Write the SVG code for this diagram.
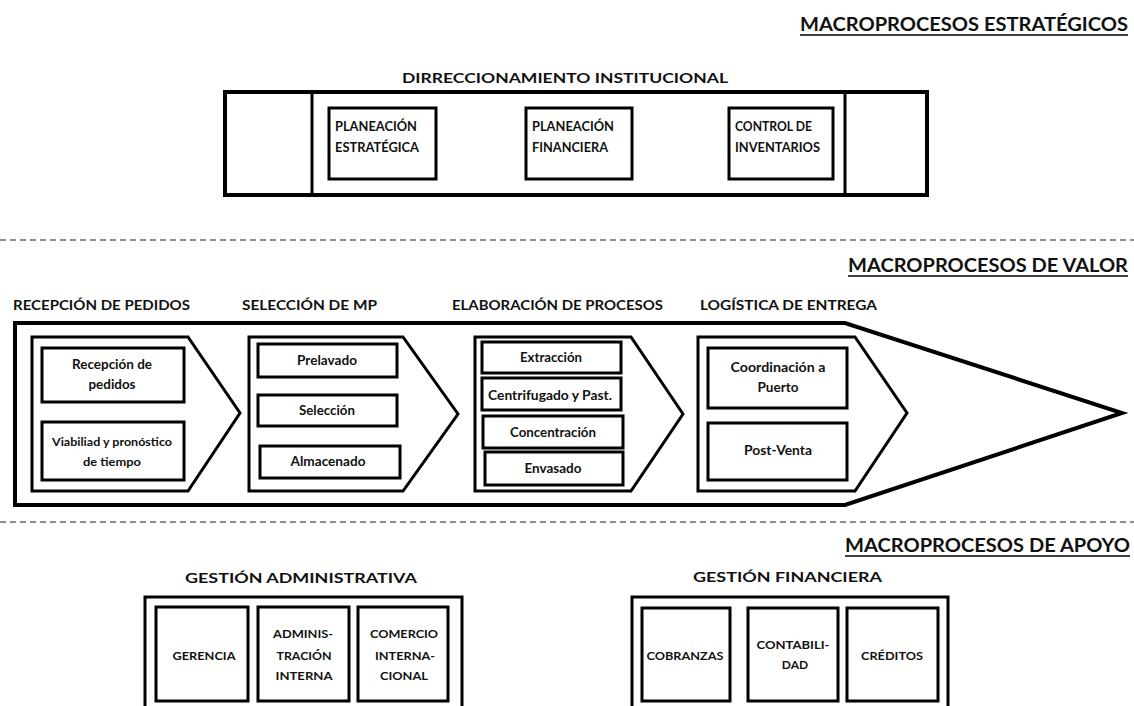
<svg xmlns="http://www.w3.org/2000/svg" width="1134" height="706" viewBox="0 0 1134 706">
  <style>
    text { font-family: Lato, "Liberation Sans", sans-serif; font-weight: bold; fill: #111; }
    .macro { font-size: 18px; }
    .head { font-size: 14px; }
    .small { font-size: 11.5px; }
    .cap { font-size: 12.5px; }
    .step { font-size: 12.5px; }
    .sup { font-size: 12px; }
    .mid { text-anchor: middle; }
    .outer { fill: #fff; stroke: #000; stroke-width: 4; }
    .box { fill: #fff; stroke: #000; stroke-width: 3; }
    .rule { stroke: #000; stroke-width: 1.5; }
    .sep { stroke: #8c8c8c; stroke-width: 2; stroke-dasharray: 6 4; }
  </style>

  <rect width="1134" height="706" fill="#fff"/>

  <!-- section separators -->
  <g id="separators">
    <line class="sep" x1="0" y1="240" x2="1134" y2="240"/>
    <line class="sep" x1="0" y1="522" x2="1134" y2="522"/>
  </g>

  <!-- section headings -->
  <g id="macro-headings">
    <text class="macro" x="800" y="31" textLength="328" lengthAdjust="spacingAndGlyphs">MACROPROCESOS ESTRATÉGICOS</text>
    <line class="rule" x1="800" y1="35" x2="1128" y2="35"/>
    <text class="macro" x="848" y="272" textLength="280" lengthAdjust="spacingAndGlyphs">MACROPROCESOS DE VALOR</text>
    <line class="rule" x1="848" y1="276" x2="1128" y2="276"/>
    <text class="macro" x="845" y="552" textLength="285" lengthAdjust="spacingAndGlyphs">MACROPROCESOS DE APOYO</text>
    <line class="rule" x1="845" y1="556" x2="1130" y2="556"/>
  </g>

  <!-- strategic block -->
  <g id="direccionamiento">
    <text class="head" x="402" y="83" textLength="326" lengthAdjust="spacingAndGlyphs">DIRRECCIONAMIENTO INSTITUCIONAL</text>
    <rect class="outer" x="225" y="92" width="702" height="103"/>
    <line stroke="#000" stroke-width="3" x1="312" y1="92" x2="312" y2="195"/>
    <line stroke="#000" stroke-width="3" x1="845" y1="92" x2="845" y2="195"/>
  </g>
  <g id="planeacion-estrategica">
    <rect class="box" x="329" y="108" width="107" height="71"/>
    <text class="cap" x="335" y="131" textLength="82" lengthAdjust="spacingAndGlyphs">PLANEACIÓN</text>
    <text class="cap" x="335" y="152" textLength="84" lengthAdjust="spacingAndGlyphs">ESTRATÉGICA</text>
  </g>
  <g id="planeacion-financiera">
    <rect class="box" x="526" y="108" width="106" height="71"/>
    <text class="cap" x="532" y="131" textLength="82" lengthAdjust="spacingAndGlyphs">PLANEACIÓN</text>
    <text class="cap" x="532" y="152" textLength="76" lengthAdjust="spacingAndGlyphs">FINANCIERA</text>
  </g>
  <g id="control-inventarios">
    <rect class="box" x="729" y="108" width="104" height="71"/>
    <text class="cap" x="735" y="131" textLength="77" lengthAdjust="spacingAndGlyphs">CONTROL DE</text>
    <text class="cap" x="735" y="152" textLength="85" lengthAdjust="spacingAndGlyphs">INVENTARIOS</text>
  </g>

  <!-- value chain -->
  <g id="cadena-valor">
    <polygon class="outer" points="15,323 845,323 1122,413 845,505 15,505"/>
    <text class="head" x="13" y="310" textLength="177" lengthAdjust="spacingAndGlyphs">RECEPCIÓN DE PEDIDOS</text>
    <text class="head" x="242" y="310" textLength="135" lengthAdjust="spacingAndGlyphs">SELECCIÓN DE MP</text>
    <text class="head" x="452" y="310" textLength="211" lengthAdjust="spacingAndGlyphs">ELABORACIÓN DE PROCESOS</text>
    <text class="head" x="700" y="310" textLength="177" lengthAdjust="spacingAndGlyphs">LOGÍSTICA DE ENTREGA</text>
  </g>

  <g id="recepcion-pedidos">
    <polygon class="box" points="32,337 188,337 240,413 188,491 32,491"/>
    <rect class="box" x="42" y="348" width="142" height="54"/>
    <text class="step mid" x="112" y="369" textLength="80" lengthAdjust="spacingAndGlyphs">Recepción de</text>
    <text class="step mid" x="112" y="389" textLength="47" lengthAdjust="spacingAndGlyphs">pedidos</text>
    <rect class="box" x="42" y="422" width="142" height="58"/>
    <text class="small mid" x="112" y="446" textLength="120" lengthAdjust="spacingAndGlyphs">Viabiliad y pronóstico</text>
    <text class="small mid" x="112" y="466" textLength="58" lengthAdjust="spacingAndGlyphs">de tiempo</text>
  </g>

  <g id="seleccion-mp">
    <polygon class="box" points="249,337 403,337 458,414 403,491 249,491"/>
    <rect class="box" x="258" y="344" width="139" height="33"/>
    <text class="step mid" x="327" y="365" textLength="60" lengthAdjust="spacingAndGlyphs">Prelavado</text>
    <rect class="box" x="258" y="395" width="139" height="31"/>
    <text class="step mid" x="327" y="415" textLength="56" lengthAdjust="spacingAndGlyphs">Selección</text>
    <rect class="box" x="260" y="446" width="140" height="32" stroke-width="3.5"/>
    <text class="step mid" x="328" y="466" textLength="75" lengthAdjust="spacingAndGlyphs">Almacenado</text>
  </g>

  <g id="elaboracion-procesos">
    <polygon class="box" points="475,337 631,337 683,414 631,491 475,491"/>
    <rect class="box" x="482" y="342" width="139" height="31"/>
    <text class="step mid" x="551" y="362" textLength="62" lengthAdjust="spacingAndGlyphs">Extracción</text>
    <rect class="box" x="482" y="378" width="139" height="32"/>
    <text class="step mid" x="550" y="400" textLength="124" lengthAdjust="spacingAndGlyphs">Centrifugado y Past.</text>
    <rect class="box" x="483" y="416" width="140" height="32"/>
    <text class="step mid" x="553" y="437" textLength="86" lengthAdjust="spacingAndGlyphs">Concentración</text>
    <rect class="box" x="485" y="452" width="138" height="33"/>
    <text class="step mid" x="553" y="473" textLength="57" lengthAdjust="spacingAndGlyphs">Envasado</text>
  </g>

  <g id="logistica-entrega">
    <polygon class="box" points="698,337 855,337 907,413 855,491 698,491"/>
    <rect class="box" x="708" y="348" width="139" height="60"/>
    <text class="step mid" x="778" y="372" textLength="95" lengthAdjust="spacingAndGlyphs">Coordinación a</text>
    <text class="step mid" x="778" y="392" textLength="41" lengthAdjust="spacingAndGlyphs">Puerto</text>
    <rect class="box" x="708" y="423" width="139" height="57"/>
    <text class="step mid" x="778" y="455" textLength="68" lengthAdjust="spacingAndGlyphs">Post-Venta</text>
  </g>

  <!-- support processes -->
  <g id="gestion-administrativa">
    <text class="head" x="185" y="583" textLength="232" lengthAdjust="spacingAndGlyphs">GESTIÓN ADMINISTRATIVA</text>
    <rect class="box" x="145" y="597" width="317" height="130"/>
  </g>
  <g id="gerencia">
    <rect class="box" x="156" y="607" width="92" height="94" stroke-width="3.5"/>
    <text class="sup mid" x="204" y="660" textLength="63" lengthAdjust="spacingAndGlyphs">GERENCIA</text>
  </g>
  <g id="administracion-interna">
    <rect class="box" x="258" y="607" width="91" height="94" stroke-width="3.5"/>
    <text class="sup mid" x="303" y="638" textLength="60" lengthAdjust="spacingAndGlyphs">ADMINIS-</text>
    <text class="sup mid" x="304" y="660" textLength="55" lengthAdjust="spacingAndGlyphs">TRACIÓN</text>
    <text class="sup mid" x="304" y="680" textLength="57" lengthAdjust="spacingAndGlyphs">INTERNA</text>
  </g>
  <g id="comercio-internacional">
    <rect class="box" x="358" y="607" width="90" height="94" stroke-width="4"/>
    <text class="sup mid" x="404" y="638" textLength="68" lengthAdjust="spacingAndGlyphs">COMERCIO</text>
    <text class="sup mid" x="405" y="660" textLength="60" lengthAdjust="spacingAndGlyphs">INTERNA-</text>
    <text class="sup mid" x="404" y="680" textLength="48" lengthAdjust="spacingAndGlyphs">CIONAL</text>
  </g>

  <g id="gestion-financiera">
    <text class="head" x="693" y="582" textLength="189" lengthAdjust="spacingAndGlyphs">GESTIÓN FINANCIERA</text>
    <rect class="box" x="632" y="597" width="316" height="130"/>
  </g>
  <g id="cobranzas">
    <rect class="box" x="642" y="608" width="88" height="93" stroke-width="3.5"/>
    <text class="sup mid" x="685" y="660" textLength="77" lengthAdjust="spacingAndGlyphs">COBRANZAS</text>
  </g>
  <g id="contabilidad">
    <rect class="box" x="748" y="608" width="90" height="93" stroke-width="3.5"/>
    <text class="sup mid" x="793" y="649" textLength="73" lengthAdjust="spacingAndGlyphs">CONTABILI-</text>
    <text class="sup mid" x="795" y="669">DAD</text>
  </g>
  <g id="creditos">
    <rect class="box" x="847" y="608" width="91" height="93" stroke-width="3.5"/>
    <text class="sup mid" x="892" y="660" textLength="62" lengthAdjust="spacingAndGlyphs">CRÉDITOS</text>
  </g>
</svg>
